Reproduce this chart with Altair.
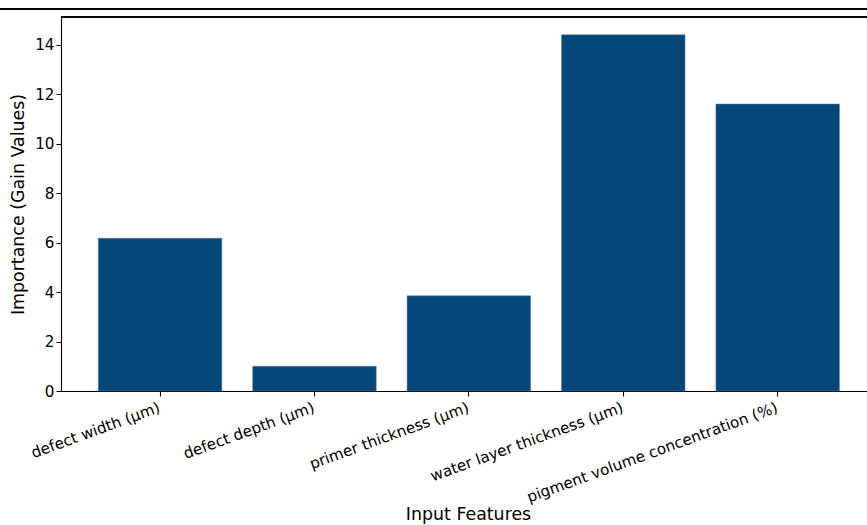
import altair as alt
import pandas as pd

# Feature importance (gain) from the trained model
features = [
    "defect width (μm)",
    "defect depth (μm)",
    "primer thickness (μm)",
    "water layer thickness (μm)",
    "pigment volume concentration (%)",
]
gains = [6.18, 1.0, 3.85, 14.41, 11.61]
y_ticks = [0, 2, 4, 6, 8, 10, 12, 14]

df = pd.DataFrame({"feature": features, "gain": gains})

W, H = 806, 374
FONT = "DejaVu Sans"
BAR = "#03477A"

bars = alt.Chart(df).mark_bar(color=BAR, stroke="#5a7fa3", strokeWidth=0.5).encode(
    x=alt.X(
        "feature:N",
        sort=features,
        scale=alt.Scale(paddingInner=0.2, paddingOuter=0.21, align=0.575),
        axis=alt.Axis(
            title="Input Features",
            labelAngle=340,
            labelAlign="right",
            labelBaseline="top",
            labelPadding=4,
            labelOffset=-3,
            labelLimit=400,
            labelOverlap=False,
            titleX=407,
            titleAlign="center",
            titleY=114,
            titleBaseline="top",
        ),
    ),
    y=alt.Y(
        "gain:Q",
        scale=alt.Scale(domain=[0, 15.13], nice=False, zero=True),
        axis=alt.Axis(
            title="Importance (Gain Values)",
            values=y_ticks,
            format="d",
            grid=False,
            titlePadding=7,
        ),
    ),
)

# top spine of the plot frame
top_spine = alt.Chart(df).mark_rule(color="#000000", strokeWidth=1).encode(
    x=alt.value(0), x2=alt.value(W), y=alt.value(0)
)
# rule across the full figure above the frame
figure_rule = alt.Chart(df).mark_rule(color="#000000", strokeWidth=1.3).encode(
    x=alt.value(-61), x2=alt.value(W), y=alt.value(-8)
)

chart = (
    alt.layer(bars, top_spine, figure_rule)
    .properties(
        width=W,
        height=H,
        autosize=alt.AutoSizeParams(type="none"),
        padding={"left": 61, "top": 17, "right": 0, "bottom": 134},
        background="white",
    )
    .configure_view(stroke=None)
    .configure_axis(
        labelFont=FONT,
        titleFont=FONT,
        labelFontSize=15.2,
        titleFontSize=17.4,
        titleFontWeight="normal",
        labelColor="#000000",
        titleColor="#000000",
        domainColor="#000000",
        domainWidth=1.1,
        tickColor="#000000",
        tickSize=5,
        tickWidth=1.1,
    )
)

chart.save("out.html", embed_options={"renderer": "svg", "actions": False})
